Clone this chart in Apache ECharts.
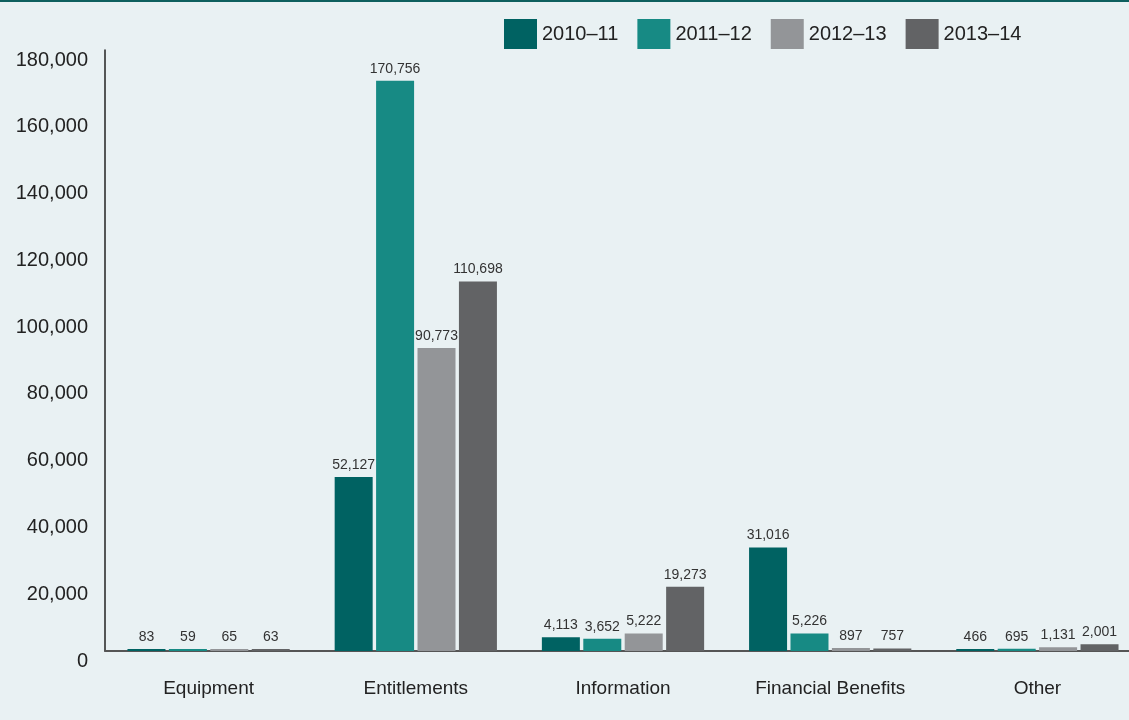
<!DOCTYPE html>
<html>
<head>
<meta charset="utf-8">
<script src="https://cdn.jsdelivr.net/npm/echarts@6/dist/echarts.min.js"></script>
<style>
  html, body { margin: 0; padding: 0; background: #e9f1f3; overflow: hidden; }
  /* a little wider than the window so the last band can run past the edge */
  #chart { width: 1141px; height: 720px; border-top: 2px solid #0e5f5e; box-sizing: border-box; }
</style>
</head>
<body>
<div id="chart"></div>
<script>
// categories and yearly counts
var categories = ['Equipment', 'Entitlements', 'Information', 'Financial Benefits', 'Other'];
var years = ['2010–11', '2011–12', '2012–13', '2013–14'];
var v2010 = [83, 52127, 4113, 31016, 466];
var v2011 = [59, 170756, 3652, 5226, 695];
var v2012 = [65, 90773, 5222, 897, 1131];
var v2013 = [63, 110698, 19273, 757, 2001];
var colors = ['#006262', '#178a84', '#939598', '#626365'];

var font = "'Liberation Sans', Arial, sans-serif";

var chart = echarts.init(document.getElementById('chart'));

function makeSeries(name, data, color) {
    return {
        name: name,
        type: 'bar',
        data: data,
        barWidth: 38,
        barGap: '9%',
        barMinHeight: 2,
        itemStyle: { color: color },
        label: {
            show: true,
            position: 'top',
            distance: 5,
            color: '#333',
            fontSize: 14,
            fontFamily: font,
            formatter: function (p) { return p.value.toLocaleString('en-US'); }
        }
    };
}

chart.setOption({
    backgroundColor: '#e9f1f3',
    animation: false,
    color: colors,
    legend: {
        left: 499,
        top: 12,
        itemWidth: 33,
        itemHeight: 30,
        itemGap: 19,
        icon: 'rect',
        textStyle: { fontSize: 20, color: '#222', fontFamily: font },
        data: years
    },
    grid: { left: 105, right: 0, top: 48, bottom: 69 },
    xAxis: {
        type: 'category',
        data: categories,
        axisLine: { lineStyle: { color: '#555', width: 2 } },
        axisTick: { show: false },
        axisLabel: { color: '#222', fontSize: 19, margin: 28, interval: 0, fontFamily: font }
    },
    yAxis: {
        type: 'value',
        min: 0,
        max: 180000,
        interval: 20000,
        axisLine: { show: true, lineStyle: { color: '#222', width: 1.5 } },
        axisTick: { show: false },
        splitLine: { show: false },
        axisLabel: {
            color: '#222',
            fontSize: 20,
            margin: 17,
            verticalAlign: 'top',
            fontFamily: font,
            formatter: function (v) { return v.toLocaleString('en-US'); }
        }
    },
    series: [
        makeSeries(years[0], v2010, colors[0]),
        makeSeries(years[1], v2011, colors[1]),
        makeSeries(years[2], v2012, colors[2]),
        makeSeries(years[3], v2013, colors[3])
    ]
});
</script>
</body>
</html>
